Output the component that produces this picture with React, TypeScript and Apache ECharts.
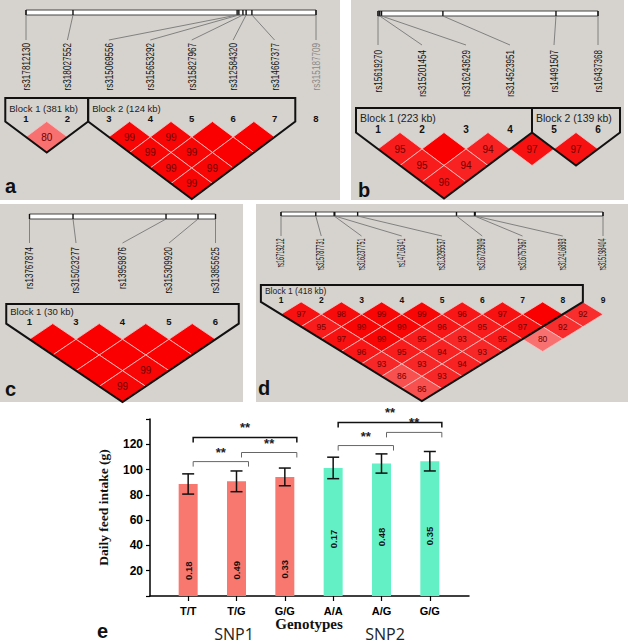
import React, { useEffect, useRef } from "react";
import * as echarts from "echarts";

const FONT = "'Liberation Sans', Arial, Helvetica, sans-serif";
const SERIF = "'Liberation Serif', 'Times New Roman', serif";
const PANEL_BG = "#d6d3ce";

// ---------- Panel a ----------
const aMarkers = ["rs317812130", "rs318027552", "rs315069556", "rs315653292", "rs315827967", "rs312584320", "rs314667377", "rs315187709"];
const aNumbers = ["1", "2", "3", "4", "5", "6", "7", "8"];
const aPositions = [0, 0.162, 0.728, 0.734, 0.748, 0.759, 0.779, 1];
const aExcluded = [false, false, false, false, false, false, false, true];
const aCells = [
  [1, 2, 0.8], [3, 4, 0.99], [4, 5, 0.99], [5, 6, 1], [6, 7, 1],
  [3, 5, 0.99], [4, 6, 0.99], [5, 7, 1], [3, 6, 0.99], [4, 7, 0.99], [3, 7, 0.99],
];
const aBlocks = [[1, 2], [3, 7]];
const aBlockNames = ["Block 1 (381 kb)", "Block 2 (124 kb)"];

// ---------- Panel b ----------
const bMarkers = ["rs15619270", "rs315201454", "rs316243629", "rs314523951", "rs14491507", "rs16437368"];
const bNumbers = ["1", "2", "3", "4", "5", "6"];
const bPositions = [0, 0.008, 0.016, 0.295, 0.809, 1];
const bExcluded = [false, false, false, false, false, false];
const bCells = [
  [1, 2, 0.95], [2, 3, 1], [3, 4, 0.94], [1, 3, 0.95], [2, 4, 0.94], [1, 4, 0.96],
  [4, 5, 0.97], [5, 6, 0.97],
];
const bBlocks = [[1, 4], [5, 6]];
const bBlockNames = ["Block 1 (223 kb)", "Block 2 (139 kb)"];

// ---------- Panel c ----------
const cMarkers = ["rs13767874", "rs315023277", "rs13959876", "rs315309920", "rs313855625"];
const cNumbers = ["1", "3", "4", "5", "6"];
const cPositions = [0, 0.234, 0.734, 0.906, 1];
const cExcluded = [false, false, false, false, false];
const cCells = [
  [1, 2, 1], [2, 3, 1], [3, 4, 1], [4, 5, 1], [1, 3, 1], [2, 4, 1], [3, 5, 1],
  [1, 4, 1], [2, 5, 0.99], [1, 5, 0.99],
];
const cBlocks = [[1, 5]];
const cBlockNames = ["Block 1 (30 kb)"];

// ---------- Panel d ----------
const dMarkers = ["rs16719212", "rs315787731", "rs316237751", "rs14716341", "rs313295537", "rs316723909", "rs316757967", "rs312416893", "rs315198404"];
const dNumbers = ["1", "2", "3", "4", "5", "6", "7", "8", "9"];
const dPositions = [0, 0.108, 0.165, 0.167, 0.238, 0.545, 0.601, 0.603, 1];
const dExcluded = [false, false, false, false, false, false, false, false, false];
const dCells = [
  [1, 2, 0.97], [2, 3, 0.98], [3, 4, 0.99], [4, 5, 0.99], [5, 6, 0.96], [6, 7, 0.97], [7, 8, 1], [8, 9, 0.92],
  [1, 3, 0.95], [2, 4, 0.99], [3, 5, 0.99], [4, 6, 0.96], [5, 7, 0.95], [6, 8, 0.97], [7, 9, 0.92],
  [1, 4, 0.97], [2, 5, 0.99], [3, 6, 0.95], [4, 7, 0.93], [5, 8, 0.95], [6, 9, 0.8],
  [1, 5, 0.96], [2, 6, 0.95], [3, 7, 0.94], [4, 8, 0.93],
  [1, 6, 0.93], [2, 7, 0.93], [3, 8, 0.94],
  [1, 7, 0.86], [2, 8, 0.93],
  [1, 8, 0.86],
];
const dBlocks = [[1, 8]];
const dBlockNames = ["Block 1 (418 kb)"];

// ---------- Panel e (bar chart) ----------
const genotypes = ["T/T", "T/G", "G/G", "A/A", "A/G", "G/G"];
const intake = [88.6, 90.7, 94.2, 101.3, 104.8, 106.6];
const intakeSd = [8.0, 8.2, 7.0, 8.5, 7.6, 7.7];
const genotypeFreq = ["0.18", "0.49", "0.33", "0.17", "0.48", "0.35"];
const snpGroup = [0, 0, 0, 1, 1, 1];
const snpNames = ["SNP1", "SNP2"];
const sigBrackets = [
  [0, 1, 106.3], [1, 2, 113.5], [0, 2, 125.4],
  [3, 4, 119.0], [4, 5, 129.4], [3, 5, 137.3],
];
const sigLabel = "**";

type Layout = {
  bg: number[]; x1: number; xN: number; row0: number; rowPx: number;
  barY: number; barH: number; connEnd: number; labelTop: number; labelFs: number; labelScale: number;
  blockTop: number; titleY: number; titleFs: number; numY: number; numFs: number; cellFs: number;
  letter: string; letterX: number; letterY: number;
};

const layoutA: Layout = { bg: [0, 0, 340, 200], x1: 26, xN: 316, row0: 121.5, rowPx: 15.5, barY: 10, barH: 5, connEnd: 40, labelTop: 43, labelFs: 11, labelScale: 0.74, blockTop: 98, titleY: 108.5, titleFs: 9.5, numY: 118.6, numFs: 9.5, cellFs: 10, letter: "a", letterX: 5, letterY: 186 };
const layoutB: Layout = { bg: [351, 0, 273, 200], x1: 378, xN: 598, row0: 132.5, rowPx: 16.5, barY: 11, barH: 5, connEnd: 45, labelTop: 50, labelFs: 11, labelScale: 0.73, blockTop: 108, titleY: 118, titleFs: 10.5, numY: 129, numFs: 10, cellFs: 10, letter: "b", letterX: 358, letterY: 190 };
const layoutC: Layout = { bg: [0, 204, 243, 198], x1: 29.5, xN: 215.5, row0: 323.6, rowPx: 15.7, barY: 214, barH: 5, connEnd: 243, labelTop: 247, labelFs: 10.5, labelScale: 0.76, blockTop: 304, titleY: 311.5, titleFs: 9.5, numY: 321.6, numFs: 9.5, cellFs: 10, letter: "c", letterX: 5, letterY: 389 };
const layoutD: Layout = { bg: [256, 204, 372, 198], x1: 281, xN: 603, row0: 301.9, rowPx: 12.4, barY: 212, barH: 4, connEnd: 236, labelTop: 238.5, labelFs: 10, labelScale: 0.55, blockTop: 285, titleY: 291, titleFs: 8.5, numY: 300.2, numFs: 8.5, cellFs: 8.5, letter: "d", letterX: 258, letterY: 388 };

function ldColor(d: number) {
  if (d >= 1) return "rgb(250,0,0)";
  const g = Math.round(Math.min(255, 255 * (1 - d) * 2.2));
  return `rgb(248,${g},${g})`;
}

function buildOption() {
  const panels = [
    { L: layoutA, markers: aMarkers, numbers: aNumbers, positions: aPositions, excluded: aExcluded, cells: aCells, blocks: aBlocks, names: aBlockNames },
    { L: layoutB, markers: bMarkers, numbers: bNumbers, positions: bPositions, excluded: bExcluded, cells: bCells, blocks: bBlocks, names: bBlockNames },
    { L: layoutC, markers: cMarkers, numbers: cNumbers, positions: cPositions, excluded: cExcluded, cells: cCells, blocks: cBlocks, names: cBlockNames },
    { L: layoutD, markers: dMarkers, numbers: dNumbers, positions: dPositions, excluded: dExcluded, cells: dCells, blocks: dBlocks, names: dBlockNames },
  ];
  const grid: any[] = [];
  const xAxis: any[] = [];
  const yAxis: any[] = [];
  const series: any[] = [];
  const graphic: any[] = [];

  panels.forEach((P, gi) => {
    const L = P.L;
    const N = P.markers.length;
    grid.push({ left: L.x1, top: L.row0, width: L.xN - L.x1, height: N * L.rowPx });
    xAxis.push({ gridIndex: gi, type: "value", min: 1, max: N, show: false });
    yAxis.push({ gridIndex: gi, type: "value", min: 0, max: N, inverse: true, show: false });
    graphic.push({ type: "rect", z: 0, silent: true, shape: { x: L.bg[0], y: L.bg[1], width: L.bg[2], height: L.bg[3] }, style: { fill: PANEL_BG } });
    graphic.push({ type: "text", z: 100, x: L.letterX, y: L.letterY, style: { text: L.letter, fontSize: 20, fontWeight: "bold", fontFamily: FONT, fill: "#111", align: "left", verticalAlign: "middle" } });

    // chromosome bar
    series.push({
      type: "custom", coordinateSystem: "cartesian2d", xAxisIndex: gi, yAxisIndex: gi, silent: true, z: 3,
      data: [[1, N]],
      renderItem: (params: any, api: any) => {
        const s = api.coord([api.value(0), 0]);
        const e = api.coord([api.value(1), 0]);
        return { type: "rect", shape: { x: s[0], y: L.barY, width: e[0] - s[0], height: L.barH }, style: { fill: "#ffffff", stroke: "#444", lineWidth: 1 } };
      },
    });

    // LD cells
    series.push({
      type: "custom", coordinateSystem: "cartesian2d", xAxisIndex: gi, yAxisIndex: gi, silent: true, z: 2,
      data: P.cells,
      renderItem: (params: any, api: any) => {
        const i = api.value(0), j = api.value(1), d = api.value(2);
        const cx = (i + j) / 2, r = j - i;
        const T = api.coord([cx, r - 1]);
        const R = api.coord([cx + 0.5, r]);
        const B = api.coord([cx, r + 1]);
        const Lf = api.coord([cx - 0.5, r]);
        const C = api.coord([cx, r]);
        const children: any[] = [
          { type: "polygon", shape: { points: [T, R, B, Lf] }, style: { fill: ldColor(d), stroke: "#f6c4c4", lineWidth: 0.8 } },
        ];
        if (d < 1) {
          children.push({ type: "text", x: C[0], y: C[1], style: { text: String(Math.round(d * 100)), fontSize: L.cellFs, fontFamily: FONT, fill: "#6e0000", align: "center", verticalAlign: "middle" } });
        }
        return { type: "group", children };
      },
    });

    // block outlines
    series.push({
      type: "custom", coordinateSystem: "cartesian2d", xAxisIndex: gi, yAxisIndex: gi, silent: true, z: 4,
      data: P.blocks,
      renderItem: (params: any, api: any) => {
        const a = api.value(0), b = api.value(1);
        const pl = api.coord([a - 0.5, 0]);
        const pr = api.coord([b + 0.5, 0]);
        const pb = api.coord([(a + b) / 2, b - a + 1]);
        return {
          type: "group",
          children: [
            { type: "polygon", shape: { points: [[pl[0], L.blockTop], [pr[0], L.blockTop], pr, pb, pl] }, style: { fill: "none", stroke: "#111", lineWidth: 2 } },
            { type: "text", x: pl[0] + 4, y: L.titleY, style: { text: P.names[params.dataIndex], fontSize: L.titleFs, fontFamily: FONT, fill: "#222", align: "left", verticalAlign: "middle" } },
          ],
        };
      },
    });

    // markers: ticks, connectors, names, numbers
    series.push({
      type: "custom", coordinateSystem: "cartesian2d", xAxisIndex: gi, yAxisIndex: gi, silent: true, z: 4,
      data: P.positions.map((p, k) => [k + 1, p]),
      renderItem: (params: any, api: any) => {
        const k = params.dataIndex;
        const m = api.value(0), f = api.value(1);
        const lab = api.coord([m, 0]);
        const bar = api.coord([1 + f * (N - 1), 0]);
        const ex = P.excluded[k];
        return {
          type: "group",
          children: [
            { type: "line", shape: { x1: bar[0], y1: L.barY, x2: bar[0], y2: L.barY + L.barH }, style: { stroke: "#111", lineWidth: 1.4 } },
            { type: "line", shape: { x1: bar[0], y1: L.barY + L.barH, x2: lab[0], y2: L.connEnd }, style: { stroke: "#777", lineWidth: 0.9 } },
            { type: "text", x: lab[0], y: L.labelTop, rotation: Math.PI / 2, scaleX: L.labelScale, style: { text: P.markers[k], fontSize: L.labelFs, fontFamily: FONT, fill: ex ? "#8a8a8a" : "#111", align: "right", verticalAlign: "middle" } },
            { type: "text", x: lab[0], y: L.numY, style: { text: P.numbers[k], fontSize: L.numFs, fontWeight: "bold", fontFamily: FONT, fill: "#111", align: "center", verticalAlign: "middle" } },
          ],
        };
      },
    });
  });

  // ---------- bar chart ----------
  const g0 = grid.length;
  grid.push({ left: 150, right: 159, top: 419, bottom: 48 });
  grid.push({ left: 164, right: 174, top: 419, bottom: 48 });
  xAxis.push({
    gridIndex: g0, type: "value", min: 0, max: 1,
    axisLine: { show: true, lineStyle: { color: "#000", width: 1.5 } },
    axisTick: { show: false }, axisLabel: { show: false }, splitLine: { show: false },
  });
  xAxis.push({
    gridIndex: g0 + 1, type: "category", data: genotypes,
    axisLine: { show: false },
    axisTick: { show: true, alignWithLabel: true, length: 5, lineStyle: { color: "#000", width: 1.2 } },
    axisLabel: { fontSize: 11, fontWeight: "bold", color: "#000", fontFamily: FONT, margin: 9 },
    name: "Genotypes", nameLocation: "middle", nameGap: 20,
    nameTextStyle: { fontFamily: SERIF, fontWeight: "bold", fontSize: 15, color: "#111" },
  });
  yAxis.push({
    gridIndex: g0, type: "value", min: 0, max: 140, interval: 20,
    axisLine: { show: true, lineStyle: { color: "#000", width: 1.5 } },
    axisTick: { show: true, length: 4, lineStyle: { color: "#000", width: 1.2 } },
    axisLabel: { formatter: (v: number) => (v === 0 || v === 140 ? "" : String(v)), fontSize: 12, fontWeight: "bold", color: "#000", fontFamily: FONT, margin: 7 },
    splitLine: { show: false },
    name: "Daily feed intake (g)", nameLocation: "middle", nameGap: 40, nameRotate: 90,
    nameTextStyle: { fontFamily: SERIF, fontWeight: "bold", fontSize: 13.5, color: "#111" },
  });
  yAxis.push({ gridIndex: g0 + 1, type: "value", min: 0, max: 140, show: false });

  series.push({
    type: "bar", xAxisIndex: g0 + 1, yAxisIndex: g0 + 1, barWidth: 19, z: 3, silent: true,
    data: intake.map((v, i) => ({
      value: v,
      itemStyle: { color: snpGroup[i] === 0 ? "#F8786F" : "#63F0C4" },
      label: {
        show: true, formatter: genotypeFreq[i], rotate: 90,
        position: ["50%", snpGroup[i] === 0 ? "77.5%" : "55.5%"],
        align: "center", verticalAlign: "middle",
        fontSize: 9.5, fontWeight: "bold", color: "#111", fontFamily: FONT,
      },
    })),
  });

  series.push({
    type: "custom", coordinateSystem: "cartesian2d", xAxisIndex: g0 + 1, yAxisIndex: g0 + 1, silent: true, z: 5,
    data: intake.map((v, i) => [i, v, intakeSd[i]]),
    renderItem: (params: any, api: any) => {
      const x = api.value(0), m = api.value(1), s = api.value(2);
      const top = api.coord([x, m + s]);
      const bot = api.coord([x, m - s]);
      const hw = 6;
      const st = { stroke: "#111", lineWidth: 1.5 };
      return {
        type: "group",
        children: [
          { type: "line", shape: { x1: top[0], y1: top[1], x2: bot[0], y2: bot[1] }, style: st },
          { type: "line", shape: { x1: top[0] - hw, y1: top[1], x2: top[0] + hw, y2: top[1] }, style: st },
          { type: "line", shape: { x1: bot[0] - hw, y1: bot[1], x2: bot[0] + hw, y2: bot[1] }, style: st },
        ],
      };
    },
  });

  series.push({
    type: "custom", coordinateSystem: "cartesian2d", xAxisIndex: g0 + 1, yAxisIndex: g0 + 1, silent: true, z: 5,
    data: sigBrackets,
    renderItem: (params: any, api: any) => {
      const a = api.value(0), b = api.value(1), lv = api.value(2);
      const pa = api.coord([a, lv]);
      const pb = api.coord([b, lv]);
      const x1 = pa[0] + 5, x2 = pb[0] + 12, y = pa[1];
      const wide = b - a > 1;
      return {
        type: "group",
        children: [
          { type: "polyline", shape: { points: [[x1, y + 5], [x1, y], [x2, y], [x2, y + 5]] }, style: { stroke: wide ? "#111" : "#666", lineWidth: wide ? 1.5 : 1, fill: "none" } },
          { type: "text", x: (x1 + x2) / 2, y: y - 3, style: { text: sigLabel, fontSize: 13, fontWeight: "bold", fontFamily: FONT, fill: "#222", align: "center", verticalAlign: "bottom" } },
        ],
      };
    },
  });

  graphic.push({ type: "text", z: 100, x: 97, y: 631, style: { text: "e", fontSize: 20, fontWeight: "bold", fontFamily: FONT, fill: "#111", align: "left", verticalAlign: "middle" } });
  graphic.push({ type: "text", z: 100, x: 234, y: 634, style: { text: snpNames[0], fontSize: 16, fontFamily: "'Open Sans', 'Noto Sans', sans-serif", fill: "#222", align: "center", verticalAlign: "middle" } });
  graphic.push({ type: "text", z: 100, x: 385, y: 634, style: { text: snpNames[1], fontSize: 16, fontFamily: "'Open Sans', 'Noto Sans', sans-serif", fill: "#222", align: "center", verticalAlign: "middle" } });

  return { animation: false, backgroundColor: "#ffffff", grid, xAxis, yAxis, series, graphic };
}

export default function App() {
  const ref = useRef<HTMLDivElement>(null);
  useEffect(() => {
    if (!ref.current) return;
    const chart = echarts.init(ref.current, undefined, { renderer: "svg" });
    chart.setOption(buildOption() as any);
    return () => chart.dispose();
  }, []);
  return <div ref={ref} style={{ position: "fixed", left: 0, top: 0, width: 628, height: 644, background: "#fff" }} />;
}
